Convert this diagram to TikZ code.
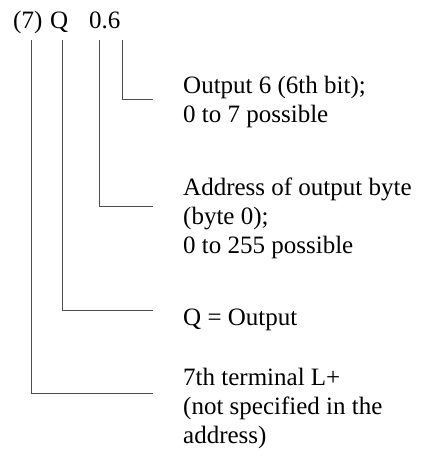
\documentclass[tikz,border=0pt]{standalone}
\usepackage{fontspec}
\setmainfont{Liberation Serif}
\usepackage{tikz}

\begin{document}
\begin{tikzpicture}[
    x=1pt, y=-1pt,
    every node/.style={font=\fontsize{25}{29.3}\selectfont, inner sep=0pt},
    part/.style={anchor=base west},
    note/.style={anchor=base west, align=left},
    lead/.style={draw=black!70, line width=0.8pt},
]
\useasboundingbox (0,0) rectangle (432,459);
% Row 0: the address (absolute coords)
\node[part] (term) at (13,28) {(7)};
\node[part] (area) at (50,28) {Q};
\node[part] (addr) at (89,28) {0.6};
% Explanations (base = baseline of the last line)
\node[note] (tbit)  at (183,122.3) {Output 6 (6th bit);\\0 to 7 possible};
\node[note] (tbyte) at (183,253.6) {Address of output byte\\(byte 0);\\0 to 255 possible};
\node[note] (tarea) at (183,325)   {Q = Output};
\node[note] (tterm) at (183,443.6) {7th terminal L+\\(not specified in the\\address)};
% Leader start and end points
\coordinate (sbit)  at (122.7,40);  \coordinate (ebit)  at (153,99);
\coordinate (sbyte) at (99.3,40);   \coordinate (ebyte) at (153,206);
\coordinate (sarea) at (62.7,40);   \coordinate (earea) at (153,310);
\coordinate (sterm) at (31.7,40);   \coordinate (eterm) at (153,393);
% Leaders
\draw[lead] (sbit) |- (ebit);
\draw[lead] (sbyte) |- (ebyte);
\draw[lead] (sarea) |- (earea);
\draw[lead] (sterm) |- (eterm);
\end{tikzpicture}
\end{document}
